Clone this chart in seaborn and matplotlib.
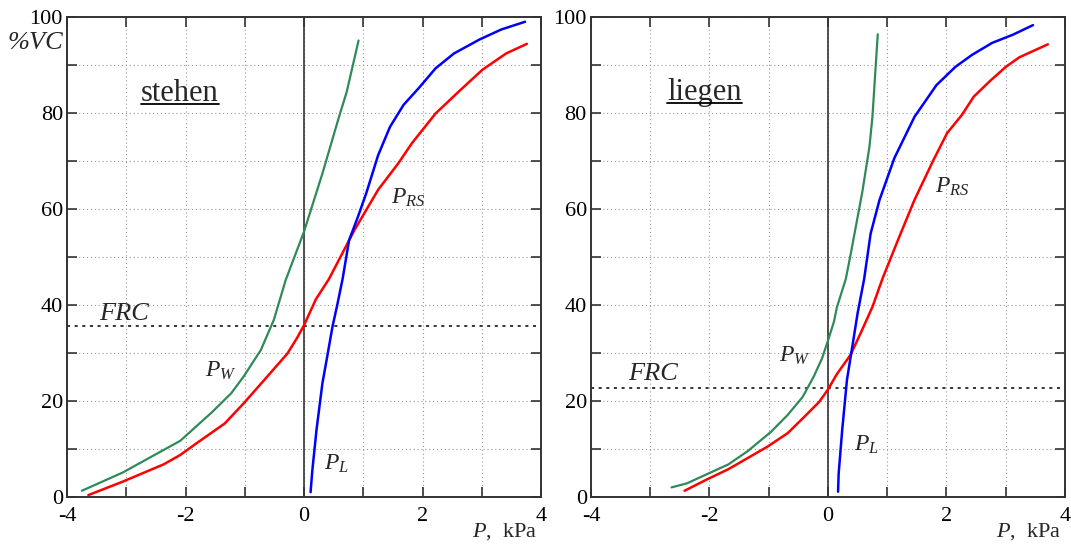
import numpy as np
import pandas as pd
import matplotlib
matplotlib.use("Agg")
import matplotlib.pyplot as plt
from matplotlib.ticker import MultipleLocator
from matplotlib.lines import Line2D
import seaborn as sns

#%% Data (P in kPa, volume in %VC)
# stehen
st_pw_p = [-3.75, -3.06, -2.62, -2.09, -1.56, -1.23, -1.02, -0.73, -0.51, -0.31, 0.0, 0.31, 0.59, 0.72, 0.92]
st_pw_v = [1.3, 5.1, 8.1, 11.7, 17.6, 21.6, 25.1, 30.6, 36.9, 45.2, 55.3, 67.4, 79.2, 84.4, 95.1]
st_prs_p = [-3.64, -3.06, -2.37, -2.09, -1.78, -1.34, -1.02, -0.67, -0.28, -0.12, 0.0, 0.2, 0.42,
            0.85, 1.25, 1.59, 1.82, 2.22, 2.64, 3.01, 3.41, 3.76]
st_prs_v = [0.4, 3.2, 6.8, 8.75, 11.5, 15.3, 19.5, 24.4, 29.9, 33.1, 35.8, 41.2, 45.4,
            55.6, 64.0, 69.5, 73.7, 79.9, 84.8, 89.0, 92.4, 94.4]
st_pl_p = [0.11, 0.14, 0.21, 0.31, 0.39, 0.48, 0.56, 0.65, 0.76, 0.91, 1.05, 1.25, 1.45,
           1.68, 1.93, 2.22, 2.53, 2.96, 3.33, 3.73]
st_pl_v = [1.0, 5.6, 14.0, 23.7, 29.2, 35.5, 40.0, 45.4, 53.5, 58.4, 63.3, 71.2, 77.1,
           81.7, 85.1, 89.3, 92.4, 95.3, 97.4, 99.0]
st_frc = 35.7

# liegen
li_pw_p = [-2.64, -2.38, -2.07, -1.68, -1.35, -0.96, -0.68, -0.43, -0.24, -0.10, 0.0, 0.1, 0.15,
           0.3, 0.38, 0.58, 0.70, 0.75, 0.79, 0.84]
li_pw_v = [2.0, 2.85, 4.6, 6.8, 9.6, 13.6, 17.1, 20.8, 25.1, 28.9, 32.6, 36.5, 39.5,
           45.4, 50.4, 63.6, 73.0, 79.2, 86.9, 96.4]
li_prs_p = [-2.42, -2.07, -1.68, -1.02, -0.68, -0.40, -0.15, 0.0, 0.15, 0.38, 0.55, 0.75, 0.92,
            1.18, 1.46, 1.78, 2.01, 2.26, 2.46, 2.72, 3.0, 3.23, 3.71]
li_prs_v = [1.3, 3.5, 5.8, 10.5, 13.3, 16.7, 19.8, 22.4, 25.6, 29.6, 34.1, 39.6, 45.5,
            53.5, 61.9, 70.2, 75.8, 79.6, 83.4, 86.5, 89.6, 91.6, 94.3]
li_pl_p = [0.17, 0.18, 0.24, 0.32, 0.41, 0.50, 0.61, 0.72, 0.87, 1.12, 1.46, 1.83, 2.15,
           2.43, 2.77, 3.12, 3.46]
li_pl_v = [1.1, 4.9, 14.0, 24.4, 31.3, 38.3, 45.4, 54.9, 61.9, 70.6, 79.2, 85.8, 89.6,
           92.1, 94.6, 96.3, 98.3]
li_frc = 22.8

x_ticks = [-4, -2, 0, 2, 4]
y_ticks = [0, 20, 40, 60, 80, 100]

#%% Style
sns.set_theme(style="ticks")
plt.rcParams['font.family'] = ['Liberation Serif', 'DejaVu Serif']
plt.rcParams['mathtext.fontset'] = 'custom'
plt.rcParams['mathtext.rm'] = 'Liberation Serif'
plt.rcParams['mathtext.it'] = 'Liberation Serif:italic'

c_w, c_rs, c_l = '#2e8b57', '#ff0000', '#0000ff'
spine_c = '#333333'

fig = plt.figure(figsize=(10.71, 5.44), dpi=100)
ax1 = fig.add_axes([0.0626, 0.0864, 0.4426, 0.8824])
ax2 = fig.add_axes([0.5518, 0.0864, 0.4426, 0.8824])

panels = [
    (ax1, st_pw_p, st_pw_v, st_prs_p, st_prs_v, st_pl_p, st_pl_v, st_frc, "stehen"),
    (ax2, li_pw_p, li_pw_v, li_prs_p, li_prs_v, li_pl_p, li_pl_v, li_frc, "liegen"),
]

# label spots (x, y baseline) for each panel
lab_pos = {
    "stehen": dict(title=(-2.1, 82.5), frc=(-3.45, 36.8), pw=(-1.67, 25), prs=(1.47, 61), pl=(0.34, 5.6)),
    "liegen": dict(title=(-2.08, 82.7), frc=(-3.38, 24.3), pw=(-0.82, 28.1), prs=(1.81, 63.3), pl=(0.44, 9.6)),
}

titles = []
for ax, pwp, pwv, prsp, prsv, plp, plv, frc, name in panels:
    df_w = pd.DataFrame({'P': pwp, 'V': pwv})
    df_rs = pd.DataFrame({'P': prsp, 'V': prsv})
    df_l = pd.DataFrame({'P': plp, 'V': plv})
    sns.lineplot(data=df_w, x='P', y='V', sort=False, estimator=None, color=c_w, lw=1.6, ax=ax)
    sns.lineplot(data=df_rs, x='P', y='V', sort=False, estimator=None, color=c_rs, lw=1.8, ax=ax)
    sns.lineplot(data=df_l, x='P', y='V', sort=False, estimator=None, color=c_l, lw=1.8, ax=ax)

    ax.axvline(0, color=spine_c, lw=1.2, zorder=1)
    ax.axhline(frc, color='black', lw=1.1, ls=(0, (2, 3)), zorder=1)

    ax.set_xlim(-4, 4)
    ax.set_ylim(0, 100)
    ax.set_xticks(x_ticks)
    ax.set_yticks(y_ticks)
    ax.xaxis.set_minor_locator(MultipleLocator(1))
    ax.yaxis.set_minor_locator(MultipleLocator(10))
    ax.set_xticklabels([str(t) for t in x_ticks])
    ax.set_yticklabels([str(t) for t in y_ticks])
    ax.tick_params(which='both', direction='in', top=True, right=True, length=7,
                   width=1.2, color=spine_c, labelsize=16, pad=3, labelcolor='black')
    ax.tick_params(axis='x', which='major', pad=7)
    ax.grid(True, which='both', ls=(0, (1, 2.5)), color='#999999', lw=0.8)
    ax.set_axisbelow(True)
    for s in ax.spines.values():
        s.set_color(spine_c)
        s.set_linewidth(1.4)
    ax.set_xlabel('')
    ax.set_ylabel('')

    lp = lab_pos[name]
    t = ax.text(*lp['title'], name, ha='center', va='baseline', fontsize=22)
    titles.append((ax, t))
    ax.text(*lp['frc'], 'FRC', ha='left', va='baseline', fontsize=19, style='italic')
    ax.text(*lp['pw'], r'$P_W$', ha='left', va='baseline', fontsize=17)
    ax.text(*lp['prs'], r'$P_{RS}$', ha='left', va='baseline', fontsize=17)
    ax.text(*lp['pl'], r'$P_L$', ha='left', va='baseline', fontsize=17)
    ax.text(0.992, -0.073, r'$P$,  kPa', transform=ax.transAxes, ha='right', va='center', fontsize=16)

ax1.text(-0.008, 94.6, '%VC', transform=ax1.get_yaxis_transform(),
         ha='right', va='center', fontsize=19, style='italic')

# underline the panel titles
fig.canvas.draw()
r = fig.canvas.get_renderer()
for ax, t in titles:
    bb = t.get_window_extent(renderer=r)
    base = ax.transData.transform(t.get_position())[1]
    y = base - 3
    fig.add_artist(Line2D([bb.x0, bb.x1], [y, y], transform=None, color='black', lw=1.3))

fig.savefig("out.png", dpi=100)
